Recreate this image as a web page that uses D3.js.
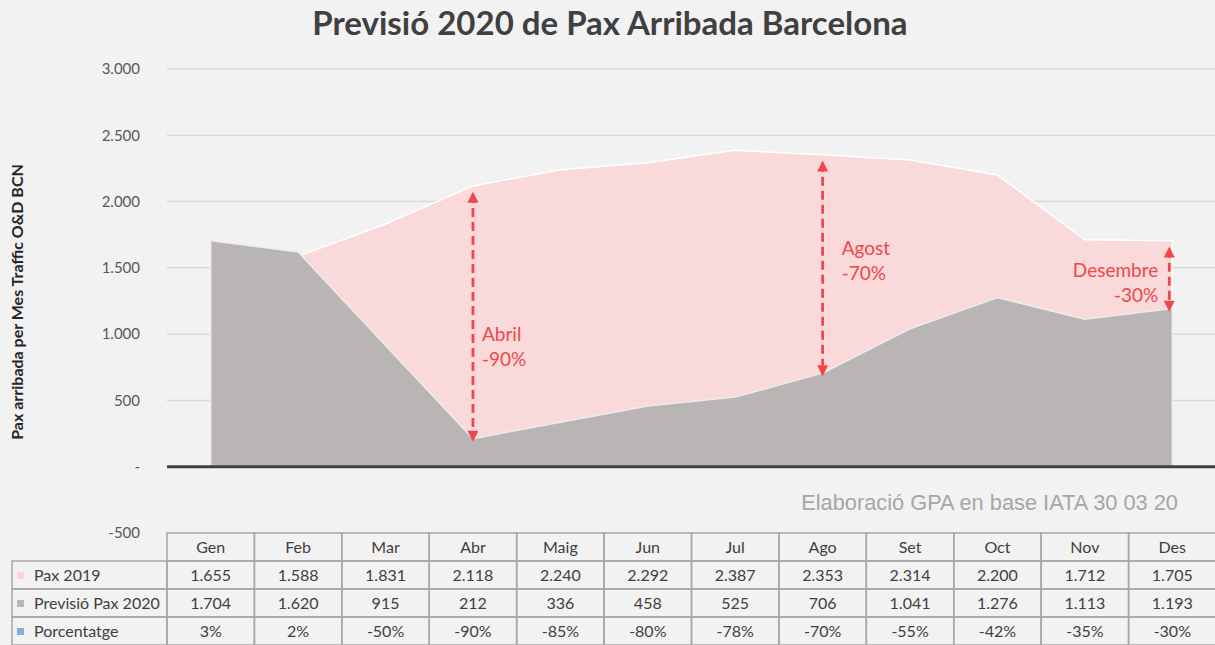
<!DOCTYPE html>
<html>
<head>
<meta charset="utf-8">
<script src="https://cdn.jsdelivr.net/npm/d3@7"></script>
<style>
  html, body { margin: 0; padding: 0; background: #f2f2f2; }
  svg { display: block; }
</style>
</head>
<body>
<svg id="chart" width="1215" height="645"></svg>
<script>
// Monthly passenger arrivals at Barcelona (thousands)
const months = ["Gen", "Feb", "Mar", "Abr", "Maig", "Jun", "Jul", "Ago", "Set", "Oct", "Nov", "Des"];
const pax2019 = [1655, 1588, 1831, 2118, 2240, 2292, 2387, 2353, 2314, 2200, 1712, 1705];
const pax2020 = [1704, 1620, 915, 212, 336, 458, 525, 706, 1041, 1276, 1113, 1193];
const pct = ["3%", "2%", "-50%", "-90%", "-85%", "-80%", "-78%", "-70%", "-55%", "-42%", "-35%", "-30%"];
const yTicks = [-500, 0, 500, 1000, 1500, 2000, 2500, 3000];
const seriesNames = ["Pax 2019", "Previsió Pax 2020", "Porcentatge"];
const callouts = [
  { month: "Abr", lines: ["Abril", "-90%"] },
  { month: "Ago", lines: ["Agost", "-70%"] },
  { month: "Des", lines: ["Desembre", "-30%"] }
];

const plotLeft = 167, plotRight = 1216;
const svg = d3.select("#chart");

const font = "Lato, 'Open Sans', sans-serif";
const colPink = "#f9d5d5";
const colGray = "#b8b5b4";
const colBlue = "#7fb0de";
const colRed = "#f0484a";

const x = d3.scaleBand().domain(months).range([plotLeft, plotRight]).paddingInner(0).paddingOuter(0);
const cx = m => x(m) + x.bandwidth() / 2;
const y = d3.scaleLinear().domain([-500, 3000]).range([533, 69]);

const loc = d3.formatLocale({ decimal: ",", thousands: ".", grouping: [3], currency: ["", ""], minus: "-" });
const fmt = loc.format(",d");
const tickFmt = v => v === 0 ? "-" : fmt(v);

// Title
svg.append("text")
  .attr("x", 610).attr("y", 35)
  .attr("text-anchor", "middle")
  .attr("font-family", font).attr("font-weight", "bold")
  .attr("font-size", 33).attr("fill", "#404040")
  .text("Previsió 2020 de Pax Arribada Barcelona");

// Y axis title
svg.append("text")
  .attr("transform", "translate(23,302) rotate(-90)")
  .attr("text-anchor", "middle")
  .attr("font-family", font).attr("font-weight", "bold")
  .attr("font-size", 16).attr("fill", "#262626")
  .text("Pax arribada per Mes Traffic O&D BCN");

// Y axis labels
const yAxis = d3.axisLeft(y).tickValues(yTicks).tickFormat(tickFmt).tickSize(0).tickPadding(0);
const gy = svg.append("g").attr("transform", "translate(140,0)").call(yAxis);
gy.select(".domain").remove();
gy.selectAll("text")
  .attr("font-family", font).attr("font-size", 15).attr("fill", "#595959");

// Gridlines
const grid = svg.append("g");
grid.selectAll("line").data(yTicks.filter(v => v > 0)).join("line")
  .attr("x1", plotLeft).attr("x2", plotRight)
  .attr("y1", d => y(d)).attr("y2", d => y(d))
  .attr("stroke", "#d9d9d9").attr("stroke-width", 1.5);

// Areas (overlapping, not stacked)
const areaGen = d3.area().x((d, i) => cx(months[i])).y0(y(0)).y1(d => y(d));
svg.append("path").datum(pax2019)
  .attr("d", areaGen)
  .attr("fill", colPink).attr("fill-opacity", 0.88)
  .attr("stroke", "#ffffff").attr("stroke-width", 1.5);

svg.append("path").datum(pax2020)
  .attr("d", areaGen)
  .attr("fill", colGray)
  .attr("stroke", "#ececec").attr("stroke-width", 1.5);

// Zero axis line
svg.append("line")
  .attr("x1", plotLeft).attr("x2", plotRight)
  .attr("y1", y(0)).attr("y2", y(0))
  .attr("stroke", "#404040").attr("stroke-width", 3);

// Callout arrows
const defs = svg.append("defs");
defs.append("marker").attr("id", "arr")
  .attr("viewBox", "0 0 10 10").attr("refX", 8).attr("refY", 5)
  .attr("markerWidth", 12).attr("markerHeight", 11)
  .attr("orient", "auto-start-reverse")
  .attr("markerUnits", "userSpaceOnUse")
  .append("path").attr("d", "M0,0L10,5L0,10Z").attr("fill", colRed);

callouts.forEach(c => {
  const i = months.indexOf(c.month);
  const xx = cx(c.month) - (c.month === "Des" ? 3 : 0);
  const y1 = y(pax2019[i]) + 8;
  const y2 = y(pax2020[i]) + 1;
  svg.append("line")
    .attr("x1", xx).attr("x2", xx).attr("y1", y1).attr("y2", y2)
    .attr("stroke", colRed).attr("stroke-width", 2.8)
    .attr("stroke-dasharray", "9,5")
    .attr("marker-start", "url(#arr)").attr("marker-end", "url(#arr)");
});

function calloutText(xPos, yPos, anchor, lines) {
  const t = svg.append("text")
    .attr("font-family", font).attr("font-size", 19).attr("fill", colRed)
    .attr("text-anchor", anchor);
  lines.forEach((l, k) => {
    t.append("tspan").attr("x", xPos).attr("y", yPos + k * 25).text(l);
  });
}
calloutText(cx("Abr") + 9, 341, "start", callouts[0].lines);
calloutText(cx("Ago") + 19, 255, "start", callouts[1].lines);
calloutText(cx("Des") - 14, 277, "end", callouts[2].lines);

// Source note
svg.append("text")
  .attr("x", 1178).attr("y", 510)
  .attr("text-anchor", "end")
  .attr("font-family", "'Liberation Sans', Arial, sans-serif")
  .attr("font-size", 21.8).attr("fill", "#a6a6a6")
  .text("Elaboració GPA en base IATA 30 03 20");

// Data table
const rowTop = 533, rowH = 28, tableLeft = 12;
const rows = [
  { name: seriesNames[0], color: colPink, vals: pax2019.map(fmt) },
  { name: seriesNames[1], color: colGray, vals: pax2020.map(fmt) },
  { name: seriesNames[2], color: colBlue, vals: pct }
];
const tbl = svg.append("g");
const lineCol = "#a6a6a6";
const tSize = 16;

// header row
months.forEach(m => {
  tbl.append("rect").attr("x", x(m)).attr("y", rowTop)
    .attr("width", x.bandwidth()).attr("height", rowH)
    .attr("fill", "none").attr("stroke", lineCol).attr("stroke-width", 1.5);
  tbl.append("text").attr("x", cx(m)).attr("y", rowTop + rowH / 2 + 6)
    .attr("text-anchor", "middle")
    .attr("font-family", font).attr("font-size", tSize).attr("fill", "#404040")
    .text(m);
});

rows.forEach((r, ri) => {
  const ry = rowTop + rowH * (ri + 1);
  tbl.append("rect").attr("x", tableLeft).attr("y", ry)
    .attr("width", plotLeft - tableLeft).attr("height", rowH)
    .attr("fill", "none").attr("stroke", lineCol).attr("stroke-width", 1.5);
  tbl.append("rect").attr("x", tableLeft + 5).attr("y", ry + rowH / 2 - 3)
    .attr("width", 7).attr("height", 7).attr("fill", r.color);
  tbl.append("text").attr("x", tableLeft + 22).attr("y", ry + rowH / 2 + 6)
    .attr("font-family", font).attr("font-size", tSize).attr("fill", "#404040")
    .text(r.name);
  months.forEach((m, i) => {
    tbl.append("rect").attr("x", x(m)).attr("y", ry)
      .attr("width", x.bandwidth()).attr("height", rowH)
      .attr("fill", "none").attr("stroke", lineCol).attr("stroke-width", 1.5);
    tbl.append("text").attr("x", cx(m)).attr("y", ry + rowH / 2 + 6)
      .attr("text-anchor", "middle")
      .attr("font-family", font).attr("font-size", tSize).attr("fill", "#404040")
      .text(r.vals[i]);
  });
});
</script>
</body>
</html>
